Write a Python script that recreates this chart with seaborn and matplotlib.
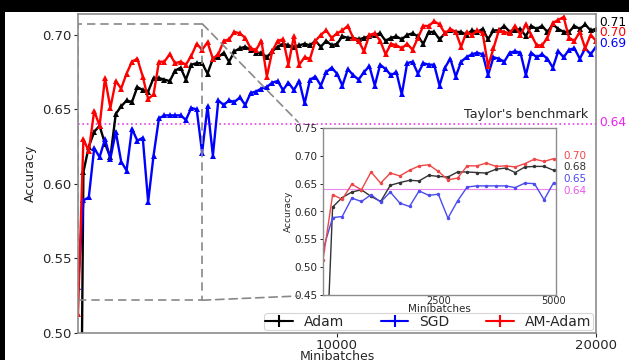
import numpy as np
import matplotlib
matplotlib.use("Agg")
import matplotlib.pyplot as plt
import seaborn as sns
from matplotlib.lines import Line2D
from matplotlib.patches import Rectangle, ConnectionPatch
import matplotlib.transforms as mtransforms

# ---------------- data ----------------
minibatches = np.linspace(0, 20000, 97)

adam = [0.180, 0.608, 0.625, 0.635, 0.639, 0.627, 0.618, 0.647, 0.652, 0.656,
        0.655, 0.665, 0.663, 0.662, 0.671, 0.671, 0.670, 0.669, 0.676, 0.678,
        0.670, 0.680, 0.681, 0.681, 0.674,
        0.684, 0.685, 0.688, 0.682, 0.689, 0.691, 0.692, 0.690, 0.688, 0.688,
        0.685, 0.689, 0.692, 0.694, 0.693, 0.692, 0.693, 0.694, 0.693, 0.696,
        0.692, 0.696, 0.693, 0.694,
        0.699, 0.698, 0.698, 0.697, 0.698, 0.699, 0.700, 0.701, 0.696, 0.698,
        0.699, 0.697, 0.700, 0.701, 0.699, 0.694, 0.702, 0.702, 0.697, 0.701,
        0.703, 0.702, 0.702, 0.700,
        0.703, 0.702, 0.704, 0.697, 0.703, 0.703, 0.706, 0.702, 0.703, 0.704,
        0.699, 0.706, 0.704, 0.706, 0.702, 0.707, 0.704, 0.702, 0.702, 0.706,
        0.704, 0.707, 0.703, 0.704]

sgd = [0.531, 0.589, 0.591, 0.624, 0.618, 0.630, 0.617, 0.635, 0.615, 0.609,
       0.637, 0.629, 0.631, 0.588, 0.619, 0.644, 0.646, 0.646, 0.646, 0.646,
       0.643, 0.651, 0.650, 0.621, 0.652,
       0.619, 0.656, 0.653, 0.656, 0.655, 0.658, 0.653, 0.661, 0.662, 0.664,
       0.665, 0.668, 0.669, 0.663, 0.668, 0.663, 0.669, 0.654, 0.670, 0.672,
       0.666, 0.675, 0.678, 0.674,
       0.666, 0.677, 0.673, 0.670, 0.675, 0.679, 0.666, 0.680, 0.677, 0.673,
       0.675, 0.660, 0.681, 0.682, 0.674, 0.681, 0.680, 0.680, 0.666, 0.678,
       0.684, 0.672, 0.682, 0.685,
       0.687, 0.688, 0.687, 0.673, 0.685, 0.684, 0.682, 0.688, 0.689, 0.688,
       0.673, 0.688, 0.685, 0.687, 0.684, 0.678, 0.689, 0.685, 0.690, 0.691,
       0.684, 0.691, 0.687, 0.692]

am_adam = [0.513, 0.630, 0.622, 0.649, 0.639, 0.671, 0.651, 0.669, 0.664, 0.674,
           0.682, 0.684, 0.672, 0.657, 0.660, 0.682, 0.682, 0.687, 0.681, 0.682,
           0.680, 0.686, 0.694, 0.690, 0.695,
           0.684, 0.687, 0.696, 0.697, 0.702, 0.701, 0.698, 0.691, 0.690, 0.696,
           0.672, 0.689, 0.696, 0.697, 0.680, 0.699, 0.680, 0.685, 0.684, 0.696,
           0.700, 0.703, 0.698, 0.701,
           0.703, 0.706, 0.698, 0.696, 0.689, 0.700, 0.701, 0.696, 0.687, 0.694,
           0.693, 0.691, 0.694, 0.690, 0.698, 0.706, 0.706, 0.709, 0.707, 0.701,
           0.704, 0.702, 0.692, 0.702,
           0.700, 0.703, 0.701, 0.679, 0.691, 0.703, 0.702, 0.701, 0.706, 0.700,
           0.707, 0.700, 0.693, 0.693, 0.698, 0.708, 0.710, 0.712, 0.698, 0.696,
           0.702, 0.691, 0.700, 0.696]

series_names = ["Adam", "SGD", "AM-Adam"]
benchmark = 0.64
benchmark_label = "Taylor's benchmark"
main_end_labels = ["0.71", "0.70", "0.69", "0.64"]
inset_end_labels = ["0.70", "0.68", "0.65", "0.64"]
n_inset = 25  # points up to 5000 minibatches

main_yticks = [0.50, 0.55, 0.60, 0.65, 0.70]
main_xticks = [10000, 20000]
inset_yticks = [0.45, 0.50, 0.55, 0.60, 0.65, 0.70, 0.75]
inset_xticks = [2500, 5000]

# ---------------- style ----------------
sns.set_style("ticks")
plt.rcParams["font.family"] = ["DejaVu Sans"]
txt = "#262626"
spine_c = "#8c8c8c"

W, H = 629, 360
fig = plt.figure(figsize=(W / 100, H / 100), dpi=100, facecolor="black")
fig.add_artist(Rectangle((5 / W, 0), 1, 348 / H, transform=fig.transFigure,
                         facecolor="white", edgecolor="none", zorder=-5))

ax = fig.add_axes([78 / W, 27 / H, 518 / W, 319 / H])
ax.set_facecolor("white")

main_colors = ["black", "#0000ff", "#ff0000"]
for data, col in zip([adam, sgd, am_adam], main_colors):
    sns.lineplot(x=minibatches, y=data, color=col, marker="^", markersize=4.5,
                 markeredgewidth=0, lw=1.7, ax=ax, legend=False)

ax.axhline(benchmark, color="#e63ce6", ls=":", lw=1.2, zorder=1)

ax.set_xlim(0, 20000)
ax.set_ylim(0.50, 0.714)
ax.set_xticks(main_xticks)
ax.set_xticklabels([str(t) for t in main_xticks])
ax.set_yticks(main_yticks)
ax.set_yticklabels([f"{t:.2f}" for t in main_yticks])
ax.tick_params(axis="both", labelsize=9.5, colors=txt, length=3, width=0.8, pad=1.5)
for s in ax.spines.values():
    s.set_color(spine_c)
    s.set_linewidth(1.2)
ax.set_xlabel("Minibatches", fontsize=9, color=txt, labelpad=-1.8)
ax.set_ylabel("Accuracy", fontsize=9, color=txt, labelpad=4)

# end labels on the right
trans = mtransforms.blended_transform_factory(ax.transAxes, ax.transData)
end_cols = ["black", "#ff0000", "#0000ff", "#ee22ee"]
end_y = [0.7085, 0.7013, 0.6942, 0.641]
for lab, col, yy in zip(main_end_labels, end_cols, end_y):
    ax.text(1.006, yy, lab, transform=trans, color=col, fontsize=8.8,
            ha="left", va="center")
ax.text(0.985, 0.6463, benchmark_label, transform=trans, color=txt,
        fontsize=9.2, ha="right", va="center")

# zoom rectangle
rect = Rectangle((0, 0.522), 4800, 0.7074 - 0.522, fill=False, ls=(0, (5, 3)),
                 edgecolor="#888888", lw=1.2, zorder=2)
ax.add_patch(rect)

legend_handles = [Line2D([], [], color=c, marker="+", markersize=8, lw=1.5,
                         markeredgewidth=1.5) for c in main_colors]
leg = ax.legend(legend_handles, series_names, ncol=3, loc="lower right",
                bbox_to_anchor=(0.994, 0.008), borderaxespad=0, fontsize=10,
                borderpad=0.12, handlelength=2.0, columnspacing=2.6,
                handletextpad=0.8, frameon=True, fancybox=True)
leg.get_frame().set_edgecolor("#cccccc")
leg.get_frame().set_linewidth(0.8)
for t in leg.get_texts():
    t.set_color(txt)

# ---------------- inset ----------------
axin = fig.add_axes([323 / W, 65 / H, 233 / W, 167 / H])
axin.set_facecolor("white")
inset_colors = ["#333333", "#4b4bef", "#f04545"]
for data, col in zip([adam, sgd, am_adam], inset_colors):
    sns.lineplot(x=minibatches[:n_inset], y=data[:n_inset], color=col,
                 marker="o", markersize=2.5, markeredgewidth=0, lw=1.0,
                 ax=axin, legend=False)
axin.axhline(benchmark, color="#ee88ee", ls="-", lw=0.8, zorder=1)
axin.set_xlim(0, 5050)
axin.set_ylim(0.45, 0.75)
axin.set_xticks(inset_xticks)
axin.set_xticklabels([str(t) for t in inset_xticks])
axin.set_yticks(inset_yticks)
axin.set_yticklabels([f"{t:.2f}" for t in inset_yticks])
axin.tick_params(axis="y", labelsize=7.5, colors=txt, length=2.5, width=0.7, pad=1.5)
axin.tick_params(axis="x", labelsize=7, colors=txt, length=0, pad=0.5)
for s in axin.spines.values():
    s.set_color(spine_c)
    s.set_linewidth(1.0)
axin.set_xlabel("Minibatches", fontsize=7.5, color=txt, labelpad=-1)
axin.set_ylabel("Accuracy", fontsize=6.5, color=txt, labelpad=1)

trans_in = mtransforms.blended_transform_factory(axin.transAxes, axin.transData)
in_cols = ["#f04545", "#333333", "#4b4bef", "#ee55ee"]
in_y = [0.6997, 0.680, 0.658, 0.636]
for lab, col, yy in zip(inset_end_labels, in_cols, in_y):
    axin.text(1.03, yy, lab, transform=trans_in, color=col, fontsize=7.5,
              ha="left", va="center")

# connectors from zoom box to inset
for ya, yb in [(0.7074, 1.036), (0.522, -0.006)]:
    con = ConnectionPatch(xyA=(4800, ya), coordsA=ax.transData,
                          xyB=(-0.107, yb), coordsB=axin.transAxes,
                          ls=(0, (5, 3)), color="#888888", lw=1.2, zorder=1.5)
    fig.add_artist(con)

fig.savefig("out.png", dpi=100, facecolor=fig.get_facecolor())
